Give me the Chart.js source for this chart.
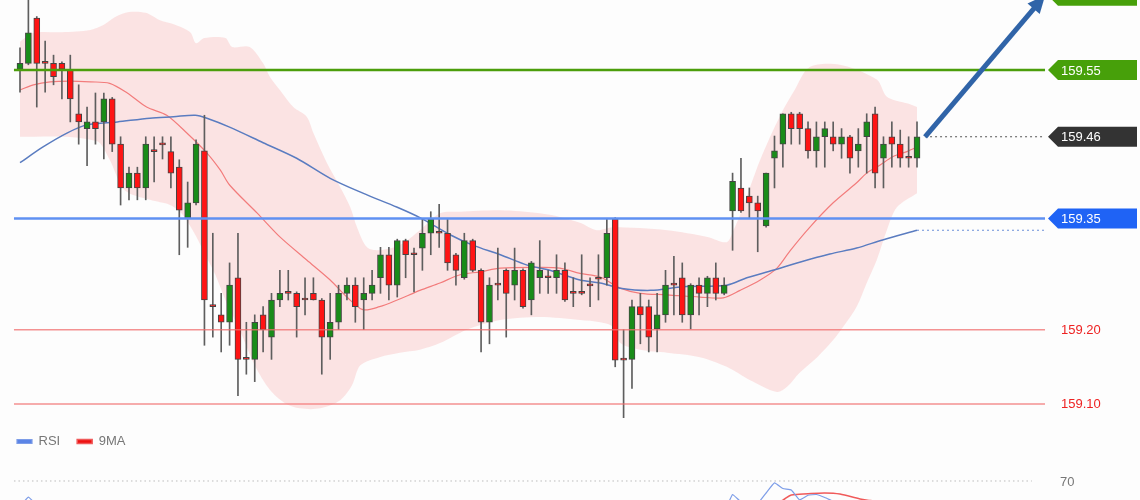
<!DOCTYPE html>
<html>
<head>
<meta charset="utf-8">
<script src="https://cdn.jsdelivr.net/npm/chart.js@4.4.0/dist/chart.umd.min.js"></script>
<style>
  html, body { margin: 0; padding: 0; background: #fdfdfd; overflow: hidden; width: 1140px; height: 500px; }
  canvas { display: block; position: absolute; left: 0; }
  #priceChart { top: 0; }
  #rsiChart { top: 418px; }
</style>
</head>
<body>
<canvas id="priceChart" width="1140" height="418"></canvas>
<canvas id="rsiChart" width="1140" height="200"></canvas>
<script>
// candles (one per bar)
const opens = [159.551,159.559,159.620,159.561,159.559,159.559,159.550,159.491,159.471,159.480,159.480,159.511,159.450,159.391,159.411,159.391,159.441,159.450,159.440,159.419,
  159.351,159.371,159.441,159.232,159.220,159.210,159.270,159.162,159.160,159.220,159.190,159.240,159.251,159.249,159.241,159.249,159.240,159.190,159.210,159.249,
  159.260,159.240,159.249,159.270,159.301,159.260,159.320,159.302,159.310,159.330,159.332,159.330,159.301,159.270,159.320,159.280,159.210,159.262,159.280,159.260,
  159.280,159.240,159.270,159.271,159.270,159.280,159.251,159.251,159.260,159.270,159.270,159.349,159.160,159.160,159.231,159.231,159.201,159.220,159.262,159.270,
  159.220,159.260,159.249,159.270,159.249,159.360,159.391,159.380,159.371,159.340,159.431,159.450,159.491,159.491,159.471,159.441,159.460,159.460,159.450,159.460,
  159.441,159.460,159.491,159.431,159.460,159.450,159.433,159.431];
const highs = [159.580,159.651,159.622,159.589,159.570,159.561,159.570,159.530,159.500,159.519,159.519,159.513,159.460,159.419,159.419,159.460,159.460,159.460,159.460,159.429,
  159.399,159.456,159.489,159.330,159.249,159.290,159.330,159.210,159.220,159.231,159.249,159.280,159.280,159.251,159.270,159.270,159.242,159.249,159.260,159.270,
  159.270,159.270,159.280,159.311,159.311,159.322,159.322,159.310,159.349,159.359,159.369,159.349,159.303,159.330,159.322,159.282,159.270,159.310,159.282,159.310,
  159.282,159.292,159.320,159.280,159.301,159.290,159.270,159.301,159.270,159.301,159.349,159.351,159.200,159.240,159.249,159.240,159.249,159.280,159.299,159.290,
  159.262,159.270,159.272,159.290,159.270,159.411,159.431,159.391,159.380,159.411,159.461,159.491,159.493,159.493,159.480,159.480,159.480,159.480,159.471,159.462,
  159.471,159.491,159.500,159.460,159.480,159.469,159.460,159.480];
const lows = [159.520,159.557,159.500,159.520,159.530,159.511,159.480,159.450,159.421,159.450,159.430,159.440,159.368,159.375,159.375,159.375,159.399,159.430,159.391,159.301,
  159.311,159.368,159.179,159.190,159.170,159.179,159.111,159.140,159.130,159.170,159.160,159.231,159.240,159.190,159.220,159.240,159.140,159.160,159.200,159.240,
  159.210,159.200,159.240,159.249,159.240,159.244,159.270,159.251,159.280,159.301,159.311,159.280,159.260,159.268,159.278,159.170,159.181,159.240,159.190,159.240,
  159.229,159.220,159.249,159.249,159.249,159.238,159.231,159.247,159.231,159.240,159.260,159.150,159.081,159.121,159.181,159.170,159.170,159.210,159.220,159.210,
  159.201,159.220,159.231,159.240,159.247,159.307,159.358,159.351,159.305,159.338,159.391,159.419,159.450,159.450,159.431,159.419,159.419,159.441,159.431,159.411,
  159.419,159.411,159.391,159.391,159.419,159.419,159.419,159.419];
const closes = [159.559,159.600,159.559,159.559,159.541,159.551,159.511,159.480,159.480,159.471,159.511,159.450,159.391,159.411,159.391,159.450,159.440,159.449,159.411,159.361,
  159.371,159.450,159.240,159.231,159.210,159.260,159.160,159.160,159.210,159.200,159.240,159.249,159.249,159.231,159.240,159.240,159.190,159.210,159.249,159.260,
  159.231,159.249,159.260,159.301,159.260,159.320,159.301,159.301,159.330,159.349,159.330,159.290,159.280,159.320,159.280,159.210,159.260,159.260,159.249,159.280,
  159.231,159.290,159.280,159.270,159.280,159.240,159.249,159.249,159.259,159.268,159.330,159.159,159.159,159.231,159.220,159.190,159.220,159.260,159.260,159.220,
  159.260,159.249,159.270,159.249,159.260,159.400,159.360,159.371,159.360,159.411,159.441,159.491,159.471,159.471,159.441,159.460,159.471,159.450,159.460,159.431,
  159.450,159.480,159.411,159.450,159.450,159.431,159.431,159.460];

// Bollinger band edges (bar position, price)
const upperX = [0,1.6,5,8.4,10,11.3,13,15,16.7,18.5,20.3,21,22,24.5,25.3,27.4,29,29.8,31,32.6,34.2,35,36.6,38.2,39.4,40.2,41.4,42.9,45.3,47.7,
  50.1,52.5,57.3,62,64.4,66.8,68.8,70.7,77.2,82,84.3,85.1,85.9,88.3,90.7,92.4,94.2,97.8,102.2,103.4,105.8,107];
const upper = [159.588,159.600,159.601,159.604,159.611,159.621,159.628,159.627,159.617,159.611,159.601,159.586,159.593,159.593,159.581,159.581,159.559,159.541,159.523,159.500,
  159.487,159.465,159.425,159.392,159.365,159.338,159.311,159.307,159.314,159.334,159.357,159.359,159.361,159.357,159.352,159.344,159.334,159.338,159.334,159.325,
  159.318,159.334,159.355,159.429,159.489,159.523,159.554,159.557,159.537,159.514,159.505,159.500];
const lowerX = [0,5.6,8.4,9.5,10.7,12.5,15.5,17.9,19.4,20.9,22.1,23.3,24.5,26.2,28,29.8,31.6,33.4,35.8,38.2,39.6,40.6,42.9,45.3,47.7,
  50.1,53.3,57.3,62,66.8,69.2,70.7,71.6,74,77.2,81.1,84.3,87.1,90.3,91.5,93,95.1,97,98.2,99.8,101,102.2,103.4,104.6,107];
const lower = [159.460,159.460,159.456,159.452,159.429,159.388,159.375,159.368,159.355,159.328,159.301,159.274,159.240,159.200,159.152,159.119,159.101,159.094,159.094,159.105,
  159.125,159.152,159.163,159.169,159.173,159.182,159.200,159.213,159.217,159.213,159.210,159.204,159.182,159.173,159.169,159.163,159.150,159.132,159.116,159.123,
  159.142,159.163,159.186,159.204,159.231,159.263,159.294,159.334,159.365,159.384];

// moving averages
const redX = [0,1.6,3.6,6,8.4,10.7,12.8,15.1,17.5,19.9,22.3,23.9,25,28.3,31,34.2,37,39,40.9,42.9,45,47.7,50.1,52.5,54.9,
  57.3,62,64.4,66.8,69.2,71.6,74,77.2,81.1,83.9,85.9,88.3,90.3,91.9,94.2,97,99.8,101,102.6,104.1,105.8,107];
const redMA = [159.523,159.530,159.534,159.535,159.534,159.532,159.519,159.500,159.489,159.465,159.438,159.415,159.395,159.357,159.325,159.294,159.267,159.244,159.227,159.231,
  159.240,159.253,159.263,159.274,159.278,159.283,159.284,159.283,159.276,159.271,159.256,159.249,159.247,159.244,159.243,159.253,159.267,159.283,159.307,159.338,
  159.371,159.398,159.411,159.422,159.433,159.440,159.446];
const blueX = [0,2.7,5.6,8,11.6,15.5,18.3,20.9,22.3,25,29,33,37,40.9,45,47.7,51.3,54,57.3,60.5,63.2,66.8,69.2,71.6,75.2,79.1,84.3,86.7,89.8,93,96.6,99.8,102.9,107];
const blueMA = [159.425,159.446,159.465,159.476,159.480,159.485,159.487,159.489,159.485,159.473,159.452,159.431,159.404,159.384,159.365,159.351,159.328,159.314,159.301,159.287,
  159.280,159.267,159.263,159.256,159.253,159.258,159.260,159.270,159.280,159.291,159.302,159.310,159.321,159.334];

// levels and tags
const levelValues = [159.55, 159.35, 159.20, 159.10];
const tagLevels = [159.65, 159.55, 159.46, 159.35];
const plainLabels = [159.20, 159.10];

// RSI panel
const rsiX = [0,1,2,4,8,12,16,20,22,26,30,36,40,45,50,55,60,65,70,71,73,77,80,84,85,86,87,88,89,90,91,92,93,94,95,96,97,99,102,104,107];
const rsiValues = [53,59.3,54,50,42,33,40,36,22,25,38,35,42,50,55,40,45,44,55,30,38,45,47,50,61,56,55,55,62,68.7,65,64,57.5,60.5,61,59,56.5,52,50,53,56];
const ma9X = [0,10,25,40,55,70,80,88,90,91,92,94,96,97.8,100.2,101.4,104,107];
const ma9Values = [50,44,32,40,47,46,45,52,55,57.3,60.7,61.5,62,61.3,58,57,55,54];
const rsiLevel = 70;

Chart.defaults.font.family = '"Liberation Sans", Arial, sans-serif';

const xMin = -2.386, xMax = 133.6;
const lineStart = -0.72, lineEnd = 122.27, lastX = 107.96;

const pts = (xs, ys) => xs.map((x, i) => ({ x: x, y: ys[i] }));
const hline = (v) => [{ x: lineStart, y: v }, { x: lineEnd, y: v }];
const idx = opens.map((_, i) => i);

const levelColors = ['#4c9e0c', '#5f91f2', 'rgba(240,110,110,0.75)', 'rgba(240,110,110,0.75)'];
const levelWidths = [2.5, 2.5, 1.5, 1.5];
const tagColors = ['#47a00a', '#47a00a', '#333333', '#1f63f5'];

const lineBase = { type: 'line', pointRadius: 0, fill: false };

const datasets = [
  Object.assign({}, lineBase, { data: pts(upperX, upper), borderWidth: 0, borderColor: 'rgba(0,0,0,0)',
    fill: '+1', backgroundColor: 'rgba(250,170,170,0.3)', tension: 0.3, order: 10 }),
  Object.assign({}, lineBase, { data: pts(lowerX, lower), borderWidth: 0, borderColor: 'rgba(0,0,0,0)', tension: 0.3, order: 10 }),
  Object.assign({}, lineBase, { data: pts(blueX, blueMA), borderColor: '#5a7cc0', borderWidth: 1.5, tension: 0.3, order: 5 }),
  Object.assign({}, lineBase, { data: [{ x: 107, y: blueMA[blueMA.length - 1] }, { x: lineEnd, y: blueMA[blueMA.length - 1] }],
    borderColor: '#6b8fd8', borderWidth: 1, borderDash: [2, 3], order: 5 }),
  Object.assign({}, lineBase, { data: pts(redX, redMA), borderColor: '#f27c7c', borderWidth: 1.2, tension: 0.3, order: 5 }),
  { type: 'bar', data: idx.map(i => ({ x: i, y: [lows[i], highs[i]] })), backgroundColor: '#5e5e5e',
    barThickness: 1, grouped: false, order: 3 },
  { type: 'bar', data: idx.map(i => ({ x: i, y: [opens[i], closes[i]] })),
    backgroundColor: idx.map(i => closes[i] >= opens[i] ? '#198c19' : '#ff1414'),
    borderColor: '#444444', borderWidth: 1, borderSkipped: false, barThickness: 6, minBarLength: 2, grouped: false, order: 2 },
  Object.assign({}, lineBase, { data: [{ x: lastX, y: closes[closes.length - 1] }, { x: lineEnd, y: closes[closes.length - 1] }],
    borderColor: '#555555', borderWidth: 1, borderDash: [2, 3], order: 1 })
];
levelValues.forEach((v, i) => {
  datasets.push(Object.assign({}, lineBase, { data: hline(v), borderColor: levelColors[i], borderWidth: levelWidths[i], order: 0 }));
});

const tagPlugin = {
  id: 'tags',
  afterDatasetsDraw(chart) {
    const { ctx, scales: { x, y } } = chart;
    ctx.save();
    // arrow
    const x0 = x.getPixelForValue(lastX), y0 = y.getPixelForValue(closes[closes.length - 1]);
    const x1 = x.getPixelForValue(122.3), y1 = y.getPixelForValue(159.651);
    const ang = Math.atan2(y1 - y0, x1 - x0);
    const head = 18;
    ctx.strokeStyle = '#3064a8';
    ctx.fillStyle = '#3064a8';
    ctx.lineWidth = 5;
    ctx.beginPath();
    ctx.moveTo(x0, y0);
    ctx.lineTo(x1 - Math.cos(ang) * head * 0.8, y1 - Math.sin(ang) * head * 0.8);
    ctx.stroke();
    ctx.beginPath();
    ctx.moveTo(x1, y1);
    ctx.lineTo(x1 - Math.cos(ang) * head + Math.sin(ang) * 8, y1 - Math.sin(ang) * head - Math.cos(ang) * 8);
    ctx.lineTo(x1 - Math.cos(ang) * head - Math.sin(ang) * 8, y1 - Math.sin(ang) * head + Math.cos(ang) * 8);
    ctx.closePath();
    ctx.fill();

    // price tags
    const left = chart.width - 92, right = chart.width - 3;
    ctx.font = '13px "Liberation Sans", Arial, sans-serif';
    ctx.textBaseline = 'middle';
    tagLevels.forEach((v, i) => {
      const py = y.getPixelForValue(v);
      ctx.fillStyle = tagColors[i];
      ctx.beginPath();
      ctx.moveTo(left, py);
      ctx.lineTo(left + 10, py - 10);
      ctx.lineTo(right, py - 10);
      ctx.lineTo(right, py + 10);
      ctx.lineTo(left + 10, py + 10);
      ctx.closePath();
      ctx.fill();
      ctx.fillStyle = '#ffffff';
      ctx.fillText(v.toFixed(2), left + 13, py + 1);
    });
    plainLabels.forEach(v => {
      ctx.fillStyle = '#ee2222';
      ctx.fillText(v.toFixed(2), left + 13, y.getPixelForValue(v) + 1);
    });
    ctx.restore();
  }
};

new Chart(document.getElementById('priceChart'), {
  type: 'line',
  data: { datasets: datasets },
  options: {
    responsive: false,
    animation: false,
    layout: { padding: 0 },
    plugins: { legend: { display: false }, tooltip: { enabled: false } },
    scales: {
      x: { type: 'linear', min: xMin, max: xMax, offset: false, display: false },
      y: { min: 159.0810, max: 159.6443, display: false }
    }
  },
  plugins: [tagPlugin]
});

const rsiLabelPlugin = {
  id: 'rsiLabel',
  afterDatasetsDraw(chart) {
    const { ctx, scales: { y } } = chart;
    ctx.save();
    ctx.font = '13px "Liberation Sans", Arial, sans-serif';
    ctx.textBaseline = 'middle';
    ctx.fillStyle = '#777777';
    ctx.fillText(String(rsiLevel), chart.width - 80, y.getPixelForValue(rsiLevel) + 1);
    ctx.restore();
  }
};

new Chart(document.getElementById('rsiChart'), {
  type: 'line',
  data: {
    datasets: [
      { label: 'RSI', data: pts(rsiX, rsiValues), borderColor: '#7d9de8', backgroundColor: '#5b84e6',
        borderWidth: 1.2, pointRadius: 0, tension: 0.1 },
      { label: '9MA', data: pts(ma9X, ma9Values), borderColor: '#f05a5a', backgroundColor: '#ee1111',
        borderWidth: 1.5, pointRadius: 0, tension: 0.3 },
      { label: 'level', data: [{ x: lineStart, y: rsiLevel }, { x: 120.7, y: rsiLevel }], borderColor: '#bbbbbb',
        borderWidth: 1, borderDash: [1.5, 3], pointRadius: 0 }
    ]
  },
  options: {
    responsive: false,
    animation: false,
    layout: { padding: 0 },
    plugins: {
      tooltip: { enabled: false },
      legend: {
        position: 'top',
        align: 'start',
        labels: {
          boxWidth: 15, boxHeight: 4, padding: 17, color: '#777777', font: { size: 13 },
          filter: item => item.datasetIndex < 2
        }
      }
    },
    scales: {
      x: { type: 'linear', min: xMin, max: xMax, display: false },
      y: { min: -21.333, max: 85.333, display: false }
    }
  },
  plugins: [rsiLabelPlugin]
});
</script>
</body>
</html>
